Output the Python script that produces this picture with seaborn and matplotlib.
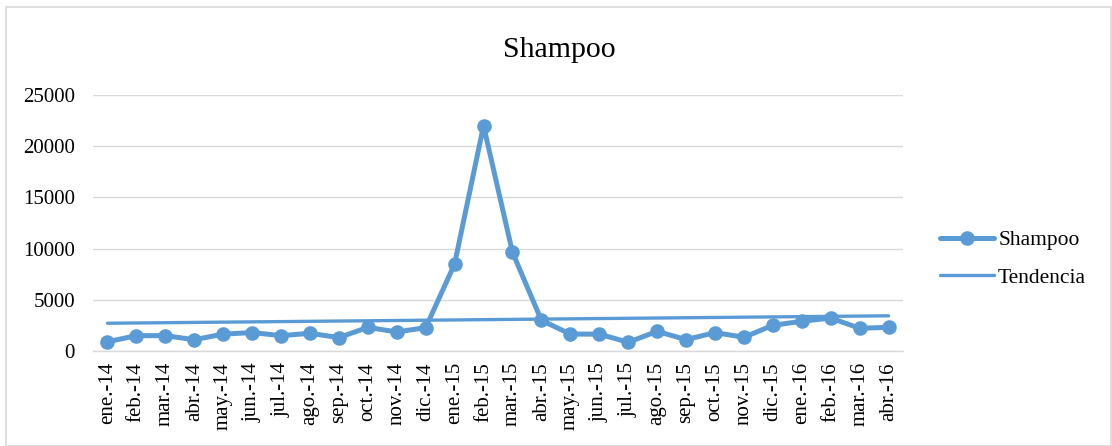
import numpy as np
import pandas as pd
import matplotlib
matplotlib.use("Agg")
import matplotlib.pyplot as plt
from matplotlib.patches import Rectangle
import seaborn as sns

# Monthly shampoo figures, ene.-14 .. abr.-16
months = ["ene.-14", "feb.-14", "mar.-14", "abr.-14", "may.-14", "jun.-14",
          "jul.-14", "ago.-14", "sep.-14", "oct.-14", "nov.-14", "dic.-14",
          "ene.-15", "feb.-15", "mar.-15", "abr.-15", "may.-15", "jun.-15",
          "jul.-15", "ago.-15", "sep.-15", "oct.-15", "nov.-15", "dic.-15",
          "ene.-16", "feb.-16", "mar.-16", "abr.-16"]
shampoo = [900, 1500, 1500, 1100, 1650, 1800, 1500, 1730, 1310, 2310, 1860, 2280,
           8500, 22000, 9640, 3000, 1650, 1650, 850, 1920, 1110, 1800, 1340, 2510,
           2900, 3220, 2220, 2310]
y_ticks = [0, 5000, 10000, 15000, 20000, 25000]

df = pd.DataFrame({"pos": np.arange(len(months)), "mes": months, "Shampoo": shampoo})

sns.set_theme(style="white")
plt.rcParams["font.family"] = ["Liberation Serif", "DejaVu Serif"]

BLUE = "#5B9BD5"
GRID = "#D9D9D9"
W, H = 1112, 446

fig = plt.figure(figsize=(W / 100, H / 100), dpi=100)
ax = fig.add_axes([93 / W, (H - 351) / H, 810 / W, 256 / H])

sns.lineplot(data=df, x="pos", y="Shampoo", ax=ax, color=BLUE, linewidth=3.6,
             marker="o", markersize=10.5, markeredgewidth=0, zorder=3)
series_line = ax.lines[-1]

# Linear trend over the whole period
sns.regplot(data=df, x="pos", y="Shampoo", ax=ax, scatter=False, ci=None,
            truncate=True, color=BLUE,
            line_kws={"linewidth": 2.4, "zorder": 4})
trend_line = ax.lines[-1]

ax.set_xlim(-0.5, len(months) - 0.5)
ax.set_ylim(y_ticks[0], y_ticks[-1])
ax.set_yticks(y_ticks)
ax.set_yticklabels([str(v) for v in y_ticks])
ax.set_xticks(df["pos"])
ax.set_xticklabels(months, rotation=90)
ax.set_xlabel("")
ax.set_ylabel("")

ax.grid(axis="y", color=GRID, linewidth=1.0)
ax.grid(axis="x", visible=False)
ax.set_axisbelow(True)
for side in ["left", "right", "top"]:
    ax.spines[side].set_visible(False)
ax.spines["bottom"].set_color(GRID)
ax.spines["bottom"].set_linewidth(1.0)
ax.tick_params(axis="y", length=0, pad=13, labelsize=15, colors="black")
ax.tick_params(axis="x", length=0, pad=8, labelsize=15, colors="black")

fig.text(559 / W, 1 - 57 / H, "Shampoo", ha="center", va="baseline",
         fontsize=21.5, color="black")

leg = ax.legend([series_line, trend_line], ["Shampoo", "Tendencia"],
                loc="center left", bbox_to_anchor=(940 / W, 1 - 259 / H),
                bbox_transform=fig.transFigure, frameon=False, fontsize=15.5,
                handlelength=2.5, handletextpad=0.2, borderpad=0,
                borderaxespad=0, labelspacing=0.8)
for t in leg.get_texts():
    t.set_color("black")

fig.patches.append(Rectangle((6 / W, 0), 1105 / W, 1 - 7 / H,
                             transform=fig.transFigure, fill=False,
                             edgecolor=GRID, linewidth=1.2))

fig.savefig("out.png", dpi=100, facecolor="white")
